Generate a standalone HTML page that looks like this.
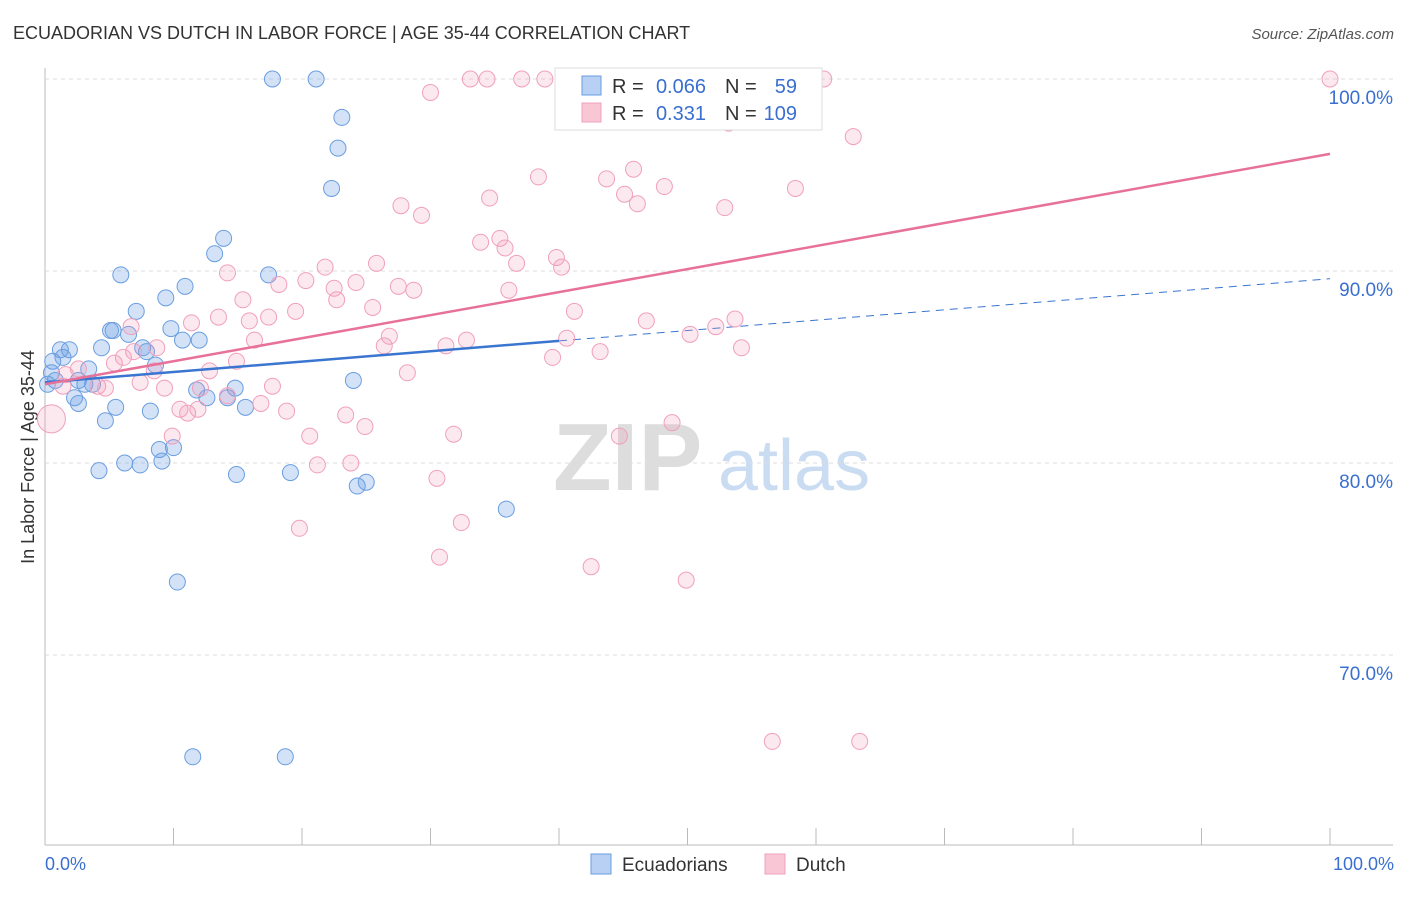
<!DOCTYPE html>
<html><head><meta charset="utf-8"><style>
body{margin:0;background:#fff;font-family:"Liberation Sans",sans-serif;}
svg text{font-family:"Liberation Sans",sans-serif;}
</style></head><body>
<svg id="chart" width="1406" height="892" viewBox="0 0 1406 892" xmlns="http://www.w3.org/2000/svg">
<text x="13" y="39" font-size="18" fill="#333">ECUADORIAN VS DUTCH IN LABOR FORCE | AGE 35-44 CORRELATION CHART</text>
<text x="1394" y="39" font-size="15" fill="#555" text-anchor="end" font-style="italic">Source: ZipAtlas.com</text>
<text x="553" y="490" font-size="96" fill="#ddd" font-family="Liberation Serif" font-weight="bold">ZIP</text>
<text x="718" y="490" font-size="72" fill="#c9dcf2">atlas</text>
<text transform="translate(34,457) rotate(-90)" font-size="18" fill="#333" text-anchor="middle">In Labor Force | Age 35-44</text>
<g id="grid"></g>
<g id="lines"></g>
<g id="pts"></g>
<g>
<rect x="555" y="68" width="267" height="62" fill="#fff" stroke="#ddd"/>
<rect x="582" y="76" width="19" height="19" fill="#b7d0f4" stroke="#6a9ee0"/>
<rect x="582" y="103" width="19" height="19" fill="#f9c6d6" stroke="#f0a0bc"/>
<text x="612" y="93" font-size="20" fill="#333">R =</text>
<text x="706" y="93" font-size="20" fill="#3a6fd0" text-anchor="end">0.066</text>
<text x="725" y="93" font-size="20" fill="#333">N =</text>
<text x="797" y="93" font-size="20" fill="#3a6fd0" text-anchor="end">59</text>
<text x="612" y="120" font-size="20" fill="#333">R =</text>
<text x="706" y="120" font-size="20" fill="#3a6fd0" text-anchor="end">0.331</text>
<text x="725" y="120" font-size="20" fill="#333">N =</text>
<text x="797" y="120" font-size="20" fill="#3a6fd0" text-anchor="end">109</text>
</g>
<g>
<rect x="591" y="854" width="20" height="20" fill="#b7d0f4" stroke="#6a9ee0"/>
<text x="622" y="871" font-size="19" fill="#333">Ecuadorians</text>
<rect x="765" y="854" width="20" height="20" fill="#f9c6d6" stroke="#f0a0bc"/>
<text x="796" y="871" font-size="19" fill="#333">Dutch</text>
</g>
<text x="45" y="870" font-size="18" fill="#3a6fd0">0.0%</text>
<text x="1394" y="870" font-size="18" fill="#3a6fd0" text-anchor="end">100.0%</text>
</svg>
<script>
const yTicks=[100,90,80,70];
const yTickLabels=["100.0%","90.0%","80.0%","70.0%"];
const xTicks=[0,10,20,30,40,50,60,70,80,90,100];
const blueX=[17.7,21.1,23.1,22.8,22.3,13.9,13.2,5.9,17.4,10.9,9.4,7.1,5.1,5.3,9.8,10.7,12.0,4.4,6.5,1.2,1.9,7.6,7.9,1.4,0.6,8.6,3.4,0.5,2.6,3.7,3.1,0.8,0.2,11.8,14.8,24.0,12.6,14.2,2.3,2.6,15.6,5.5,8.2,4.7,8.9,10.0,9.1,6.2,7.4,4.2,14.9,19.1,24.3,25.0,35.9,10.3,11.5,18.7];
const blueY=[100,100,98.0,96.4,94.3,91.7,90.9,89.8,89.8,89.2,88.6,87.9,86.9,86.9,87.0,86.4,86.4,86.0,86.7,85.9,85.9,86.0,85.8,85.5,85.3,85.1,84.9,84.7,84.3,84.1,84.1,84.3,84.1,83.8,83.9,84.3,83.4,83.4,83.4,83.1,82.9,82.9,82.7,82.2,80.7,80.8,80.1,80.0,79.9,79.6,79.4,79.5,78.8,79.0,77.6,73.8,64.7,64.7];
const pinkX=[33.1,34.4,37.1,38.9,52.0,60.6,100,30.0,53.2,62.9,38.4,45.8,43.7,48.2,58.4,45.1,46.1,34.6,27.7,29.3,52.9,33.9,35.4,35.8,39.8,36.7,40.2,25.8,21.8,14.2,20.3,24.2,18.2,27.5,28.7,36.1,22.5,22.7,15.4,25.5,19.5,41.2,13.5,15.9,11.4,17.4,6.7,46.8,53.7,52.2,50.2,26.8,40.6,31.2,32.8,26.4,16.3,54.2,43.2,8.7,6.9,6.1,39.5,14.9,5.4,8.5,28.2,12.8,2.6,1.6,4.1,7.4,4.7,9.3,17.7,12.1,14.2,16.8,10.5,11.1,11.9,18.8,23.4,24.9,20.6,31.8,9.9,44.7,48.8,21.2,23.8,30.5,19.8,32.4,30.7,42.5,49.9,56.6,63.4,1.4,0.5];
const pinkY=[100,100,100,100,100,100,100,99.3,97.7,97.0,94.9,95.3,94.8,94.4,94.3,94.0,93.5,93.8,93.4,92.9,93.3,91.5,91.7,91.2,90.7,90.4,90.2,90.4,90.2,89.9,89.5,89.4,89.3,89.2,89.0,89.0,89.1,88.5,88.5,88.1,87.9,87.9,87.6,87.4,87.3,87.6,87.1,87.4,87.5,87.1,86.7,86.6,86.5,86.1,86.4,86.1,86.4,86.0,85.8,86.0,85.8,85.5,85.5,85.3,85.2,84.8,84.7,84.8,84.9,84.6,84.0,84.2,83.9,83.9,84.0,83.9,83.5,83.1,82.8,82.6,82.8,82.7,82.5,81.9,81.4,81.5,81.4,81.4,82.1,79.9,80.0,79.2,76.6,76.9,75.1,74.6,73.9,65.5,65.5,84.0,82.3];
const pinkSize=pinkX.map((_,i)=>i===pinkX.length-1?14:8);
const blueTrend=[84.2,0.054]; // intercept, slope
const pinkTrend=[84.1,0.12];
const blueSolidEnd=40;
const NS="http://www.w3.org/2000/svg";
const X=v=>45+v*12.85, Y=v=>79+(100-v)*19.2;
function mk(t,a,p){const e=document.createElementNS(NS,t);for(const k in a)e.setAttribute(k,a[k]);p.appendChild(e);return e;}
const grid=document.getElementById('grid');
mk('line',{x1:45,y1:68,x2:45,y2:845,stroke:'#bbb'},grid);
mk('line',{x1:45,y1:845,x2:1393,y2:845,stroke:'#bbb'},grid);
yTicks.forEach((t,i)=>{
 const l=mk('line',{x1:45,x2:1393,y1:Y(t),y2:Y(t),stroke:'#ddd','stroke-dasharray':'4,4'},grid);
 
 
 const tx=mk('text',{x:1393,y:Y(t)+25,'font-size':19,fill:'#3a6fd0','text-anchor':'end'},grid);
 tx.textContent=yTickLabels[i];
 
 
});
xTicks.forEach(t=>{
 const l=mk('line',{x1:X(t),x2:X(t),y1:828,y2:845,stroke:'#bbb'},grid);
 
 
});
const pts=document.getElementById('pts');
blueX.forEach((x,i)=>{
 const c=mk('circle',{cx:X(x),cy:Y(blueY[i]),r:8,fill:'rgba(110,160,230,0.3)',stroke:'#6a9ee0','stroke-width':1},pts);
 
 
});
pinkX.forEach((x,i)=>{
 const c=mk('circle',{cx:X(x),cy:Y(pinkY[i]),r:pinkSize[i],fill:'rgba(240,150,180,0.22)',stroke:'#f0a0bc','stroke-width':1},pts);
 
 
});
const lines=document.getElementById('lines');
const bt=v=>blueTrend[0]+blueTrend[1]*v, pt=v=>pinkTrend[0]+pinkTrend[1]*v;
let l1=mk('line',{x1:X(0),y1:Y(bt(0)),x2:X(blueSolidEnd),y2:Y(bt(blueSolidEnd)),stroke:'#3a75d0','stroke-width':2.5},pts);


let l2=mk('line',{x1:X(blueSolidEnd),y1:Y(bt(blueSolidEnd)),x2:X(100),y2:Y(bt(100)),stroke:'#3a75d0','stroke-width':1,'stroke-dasharray':'8,6'},lines);


let l3=mk('line',{x1:X(0),y1:Y(pt(0)),x2:X(100),y2:Y(pt(100)),stroke:'#e8719a','stroke-width':2.5},pts);


</script>
</body></html>
